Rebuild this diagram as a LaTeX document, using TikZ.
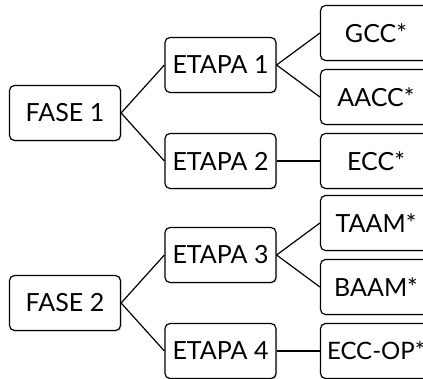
\documentclass[tikz,border=0pt]{standalone}
\usepackage{fontspec}
\setmainfont{Lato}
\usepackage{tikz}
\usetikzlibrary{positioning,shadows}

\tikzset{
  fase/.style={draw,rounded corners=5pt,fill=white,line width=1.2pt,
    minimum width=111pt,minimum height=55pt,
    font=\fontsize{25}{30}\selectfont,
    drop shadow={opacity=0.25,shadow xshift=1.2pt,shadow yshift=-1.2pt}}
}

\begin{document}
\begin{tikzpicture}[x=1pt,y=-1pt,-,line width=1.2pt,node distance=155.5pt]
	  \path[use as bounding box,clip] (0,0) rectangle (423,378);

	  \node[fase] (F1) at (65,113)            {FASE 1};
	  \node[fase] (E1) [right of=F1,yshift=48pt]  {ETAPA 1};
	  \node[fase] (E2) [right of=F1,yshift=-48pt] {ETAPA 2};
	  \node[fase] (G1) [right of=E1,yshift=32pt]  {GCC*};
	  \node[fase] (G2) [right of=E1,yshift=-32pt] {AACC*};
	  \node[fase] (G3) [right of=E2]              {ECC*};

	  \node[fase] (F2) at (65,303)            {FASE 2};
	  \node[fase] (E3) [right of=F2,yshift=48pt]  {ETAPA 3};
	  \node[fase] (E4) [right of=F2,yshift=-48pt] {ETAPA 4};
	  \node[fase] (G4) [right of=E3,yshift=32pt]  {TAAM*};
	  \node[fase] (G5) [right of=E3,yshift=-32pt] {BAAM*};
	  \node[fase,inner xsep=0pt,font=\fontsize{24}{30}\selectfont]
	              (G6) [right of=E4]              {ECC-OP*\hspace{8pt}};

	  \path
(F1.east) edge (E1.west)
(F1.east) edge (E2.west)
(E1.east) edge (G1.west)
(E1.east) edge (G2.west)
(E2.east) edge (G3.west)

(F2.east) edge (E3.west)
(F2.east) edge (E4.west)
(E3.east) edge (G4.west)
(E3.east) edge (G5.west)
(E4.east) edge (G6.west)
;
	\end{tikzpicture}
\end{document}
